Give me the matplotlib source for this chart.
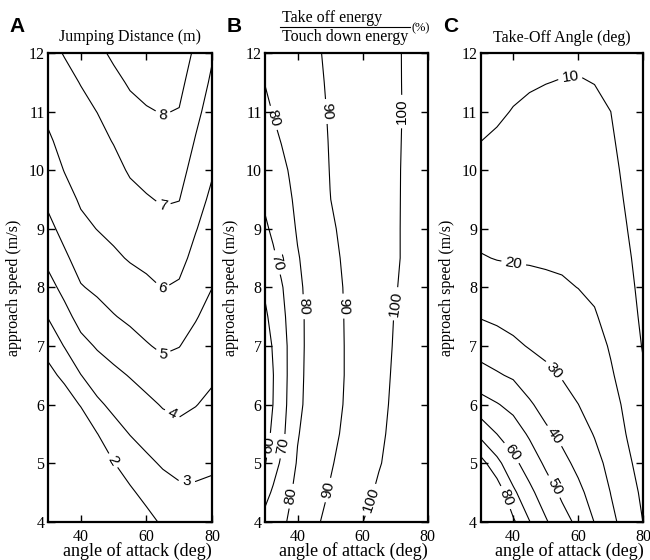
import numpy as np
import matplotlib
matplotlib.use('Agg')
import matplotlib.pyplot as plt
from matplotlib.lines import Line2D

plt.rcParams['font.family'] = ['Liberation Serif', 'DejaVu Serif']

# ------------------------------
# data: values
# ------------------------------
speeds = [4.0, 4.5, 5.0, 5.5, 6.0, 6.5, 7.0, 7.5, 8.0, 8.5,
          9.0, 9.5, 10.0, 10.5, 11.0, 11.5, 12.0]

# A: jumping distance (m), one list per angle column (values along speeds)
angles_A = [30, 35, 40, 45, 50, 55, 60, 65, 70, 75, 80]
dist_cols = [
    [-0.2, 0.3, 0.7, 1.0, 1.3, 1.69, 2.36, 3.04, 3.66, 4.24, 4.75, 5.18, 5.52, 5.87, 6.18, 6.47, 6.77],
    [-0.7, -0.2, 0.3, 0.85, 1.44, 2.24, 3.04, 3.68, 4.28, 4.84, 5.28, 5.66, 6.03, 6.28, 6.53, 6.78, 7.04],
    [-0.2, 0.3, 0.75, 1.2, 2.07, 2.98, 3.70, 4.35, 4.94, 5.37, 5.78, 6.11, 6.33, 6.56, 6.79, 7.03, 7.35],
    [-0.3, 0.4, 1.15, 1.98, 2.82, 3.48, 4.09, 4.66, 5.17, 5.60, 6.02, 6.27, 6.51, 6.76, 7.01, 7.40, 7.80],
    [0.7, 1.3, 1.97, 2.62, 3.23, 3.79, 4.36, 4.95, 5.41, 5.86, 6.20, 6.47, 6.75, 7.04, 7.41, 7.78, 8.15],
    [1.2, 1.85, 2.44, 3.03, 3.53, 4.05, 4.64, 5.18, 5.64, 6.07, 6.41, 6.75, 7.09, 7.42, 7.75, 8.10, 8.45],
    [1.7, 2.28, 2.82, 3.31, 3.79, 4.33, 4.93, 5.38, 5.82, 6.21, 6.57, 6.93, 7.27, 7.60, 7.93, 8.27, 8.60],
    [2.14, 2.62, 3.10, 3.58, 4.07, 4.63, 5.15, 5.57, 6.02, 6.36, 6.72, 7.08, 7.40, 7.72, 8.04, 8.35, 8.65],
    [2.36, 2.82, 3.28, 3.75, 4.19, 4.60, 5.02, 5.45, 5.89, 6.28, 6.65, 7.02, 7.33, 7.64, 7.96, 8.25, 8.55],
    [2.42, 2.85, 3.25, 3.64, 4.03, 4.37, 4.72, 5.06, 5.39, 5.73, 6.05, 6.35, 6.64, 6.94, 7.24, 7.53, 7.82],
    [2.39, 2.79, 3.15, 3.48, 3.81, 4.13, 4.42, 4.71, 5.01, 5.28, 5.55, 5.82, 6.09, 6.34, 6.59, 6.85, 7.10],
]
levels_A = [2, 3, 4, 5, 6, 7, 8]

# B: take off / touch down energy (%), one list per speed row
angles_B = [30, 32.5, 35, 37.5, 40, 42.5, 45, 50, 55, 60, 65, 70, 75, 80]
energy_rows = [
    [73.5, 75.9, 78.4, 80.8, 83.3, 85.8, 88.3, 92.5, 96.2, 99.9, 103.0, 105.5, 107.0, 108.0],
    [66.5, 71.5, 75.4, 79.2, 81.8, 84.0, 86.3, 90.6, 94.1, 97.7, 101.2, 104.0, 106.0, 107.5],
    [59.5, 65.5, 71.4, 76.5, 80.7, 82.8, 84.9, 89.2, 92.7, 96.1, 99.5, 102.5, 104.8, 106.5],
    [57.0, 61.6, 67.3, 73.3, 79.5, 81.8, 83.8, 87.8, 91.6, 95.1, 98.7, 101.8, 104.0, 105.8],
    [55.5, 60.1, 66.1, 72.0, 77.7, 81.2, 83.1, 87.0, 90.8, 94.4, 98.0, 101.4, 103.6, 105.3],
    [55.3, 59.8, 65.7, 71.6, 77.1, 80.9, 82.8, 86.7, 90.5, 94.0, 97.6, 101.0, 103.2, 104.9],
    [56.3, 60.7, 66.1, 71.5, 76.7, 80.7, 82.7, 86.7, 90.5, 93.9, 97.3, 100.6, 102.8, 104.5],
    [58.5, 62.8, 67.5, 72.3, 77.0, 80.7, 82.7, 86.8, 90.6, 93.8, 97.1, 100.3, 102.5, 104.2],
    [61.3, 65.2, 69.1, 73.5, 78.0, 81.1, 83.1, 87.1, 90.8, 93.8, 96.7, 99.6, 102.2, 104.0],
    [64.5, 68.5, 72.3, 75.9, 79.4, 81.7, 83.8, 87.9, 91.3, 93.9, 96.6, 99.2, 101.8, 103.7],
    [68.5, 71.7, 74.6, 77.6, 80.8, 82.9, 84.7, 88.9, 91.8, 94.3, 96.7, 99.2, 101.8, 103.6],
    [71.5, 74.1, 76.7, 79.2, 81.5, 83.6, 85.7, 89.9, 92.3, 94.6, 96.9, 99.2, 101.7, 103.5],
    [74.0, 76.1, 78.3, 80.4, 82.4, 84.4, 86.4, 90.2, 92.4, 94.7, 96.9, 99.2, 101.6, 103.4],
    [76.3, 78.4, 80.2, 82.0, 83.7, 85.5, 87.2, 90.4, 92.6, 94.8, 96.9, 99.1, 101.5, 103.3],
    [78.3, 80.3, 81.8, 83.3, 84.8, 86.4, 87.9, 90.6, 92.7, 94.8, 96.9, 99.0, 101.4, 103.2],
    [80.2, 81.5, 82.8, 84.2, 85.6, 87.0, 88.4, 90.9, 92.9, 95.0, 97.0, 99.1, 101.4, 103.2],
    [82.0, 83.2, 84.3, 85.5, 86.7, 87.8, 89.0, 91.1, 93.1, 95.1, 97.1, 99.2, 101.3, 103.0],
]
levels_B = [60, 70, 80, 90, 100]

# C: take-off angle (deg), one list per angle column
angles_C = [30, 35, 40, 45, 50, 55, 60, 65, 70, 75, 80]
takeoff_cols = [
    [88.5, 86.5, 83.8, 67.1, 53.8, 43.5, 35.8, 29.5, 25.0, 20.5, 17.7, 15.1, 12.5, 9.95, 8.0, 6.5, 5.0],
    [88.5, 86.5, 72.9, 59.9, 50.6, 41.0, 34.0, 28.2, 23.8, 19.7, 17.5, 15.3, 13.1, 10.9, 9.0, 7.5, 6.0],
    [81.5, 72.0, 62.5, 54.8, 47.2, 38.7, 31.7, 26.9, 22.8, 19.4, 17.6, 15.7, 13.9, 12.1, 10.3, 8.6, 7.0],
    [70.3, 62.4, 55.4, 48.7, 41.2, 35.0, 29.4, 25.7, 22.1, 19.3, 17.6, 16.0, 14.4, 12.7, 11.1, 9.4, 7.8],
    [61.0, 54.8, 48.4, 41.9, 36.6, 31.8, 28.0, 24.7, 21.4, 19.1, 17.6, 16.1, 14.5, 13.0, 11.4, 9.9, 8.4],
    [53.6, 48.2, 42.7, 37.8, 33.5, 29.4, 26.5, 23.6, 20.8, 18.9, 17.5, 16.0, 14.6, 13.1, 11.7, 10.2, 8.8],
    [47.8, 42.2, 37.7, 33.8, 30.05, 27.4, 24.9, 22.3, 19.9, 18.5, 17.1, 15.8, 14.4, 13.1, 11.7, 10.3, 9.0],
    [39.7, 36.2, 32.8, 29.5, 27.3, 25.0, 22.7, 20.5, 19.0, 17.7, 16.4, 15.1, 13.8, 12.5, 11.2, 9.9, 8.6],
    [32.0, 29.8, 27.5, 25.3, 23.0, 20.8, 19.3, 18.1, 16.9, 15.8, 14.6, 13.4, 12.3, 11.1, 10.0, 8.8, 7.6],
    [26.6, 24.1, 21.7, 19.6, 18.2, 16.9, 15.5, 14.2, 12.8, 11.5, 10.1, 9.0, 8.0, 7.0, 6.0, 5.2, 4.5],
    [19.8, 18.2, 16.4, 14.6, 12.9, 11.1, 9.3, 8.0, 7.0, 6.0, 5.2, 4.6, 4.0, 3.5, 3.0, 2.6, 2.2],
]
levels_C = [10, 20, 30, 40, 50, 60, 70, 80]

# where the contour labels sit (angle, speed)
label_pos_A = [(65, 10.94), (65, 9.38), (65, 8.0), (65, 6.83), (67.2, 5.77), (72.3, 4.68), (49.4, 5.03)]
label_pos_B = [(32.5, 10.89), (48.5, 11.0), (72.5, 11.0), (32.6, 8.41), (42.1, 7.67), (54.1, 7.68),
               (70.0, 7.72), (31.6, 5.3), (36.2, 5.28), (38.6, 4.43), (49.4, 4.54), (62.6, 4.37)]
label_pos_C = [(57.5, 11.62), (40.0, 8.35), (52.3, 6.56), (52.3, 5.45), (52.6, 4.6), (39.5, 5.17), (38.0, 4.42)]

# ------------------------------
# figure
# ------------------------------
W, H = 650, 560
fig = plt.figure(figsize=(W / 100, H / 100), dpi=100)


def px_box(left, right, top, bottom):
    return [left / W, 1 - bottom / H, (right - left) / W, (bottom - top) / H]


FS = 11.5


def setup_axes(ax):
    ax.set_xlim(30, 80)
    ax.set_ylim(4, 12)
    ax.set_xticks([40, 60, 80])
    ax.set_yticks(range(4, 13))
    ax.tick_params(direction='in', top=True, right=True, length=5, width=1.0,
                   labelsize=FS)
    ax.tick_params(axis='x', pad=5)
    ax.tick_params(axis='y', pad=2.5)
    for sp in ax.spines.values():
        sp.set_linewidth(1.6)
    ax.set_xlabel('angle of attack (deg)', fontsize=13)
    ax.xaxis.set_label_coords(0.546, -0.043)
    ax.set_ylabel('approach speed (m/s)', fontsize=FS)
    ax.yaxis.set_label_coords(-0.16, 0.5)


def draw_contours(ax, x, z, levels, positions):
    cs = ax.contour(x, speeds, z, levels=levels, colors='k', linewidths=0.8)
    with plt.rc_context({'font.family': ['Liberation Sans', 'DejaVu Sans']}):
        ax.clabel(cs, fmt='%d', fontsize=11, inline=True, inline_spacing=4,
                  manual=positions)
    return cs


axA = fig.add_axes(px_box(48, 212, 53, 521.7))
axB = fig.add_axes(px_box(265, 427.7, 53, 521.7))
axC = fig.add_axes(px_box(480.7, 643.3, 53, 521.7))

for ax in (axA, axB, axC):
    setup_axes(ax)

draw_contours(axA, angles_A, np.array(dist_cols).T, levels_A, label_pos_A)
draw_contours(axB, angles_B, np.array(energy_rows), levels_B, label_pos_B)
draw_contours(axC, angles_C, np.array(takeoff_cols).T, levels_C, label_pos_C)

# titles
axA.text(0.5, 1.034, 'Jumping Distance (m)', transform=axA.transAxes,
         ha='center', va='center', fontsize=FS)
axC.text(0.5, 1.032, 'Take-Off Angle (deg)', transform=axC.transAxes,
         ha='center', va='center', fontsize=FS)

# energy ratio written as a fraction
fig.text(282 / W, 1 - 18 / H, 'Take off energy', ha='left', va='center', fontsize=FS)
fig.text(282 / W, 1 - 37 / H, 'Touch down energy', ha='left', va='center', fontsize=FS)
fig.add_artist(Line2D([280 / W, 410 / W], [1 - 27 / H, 1 - 27 / H],
                      transform=fig.transFigure, color='k', linewidth=0.8))
fig.text(412 / W, 1 - 28 / H, '(%)', ha='left', va='center', fontsize=9)

# panel letters
for letter, xp in (('A', 17), ('B', 234), ('C', 451)):
    fig.text(xp / W, 1 - 26 / H, letter, ha='center', va='center', fontsize=15,
             fontweight='bold', family=['Liberation Sans', 'DejaVu Sans'])

fig.savefig('out.png', dpi=100, facecolor='white')
